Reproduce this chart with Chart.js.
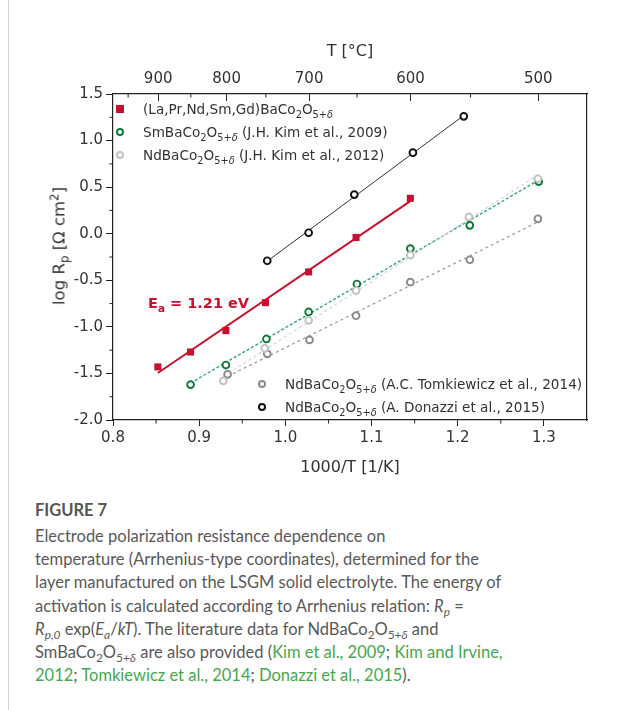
<!DOCTYPE html>
<html>
<head>
<meta charset="utf-8">
<script src="https://cdn.jsdelivr.net/npm/chart.js@4.4.1/dist/chart.umd.min.js"></script>
<style>
  body { margin: 0; background: #fff; width: 617px; height: 710px; position: relative; overflow: hidden; font-family: 'DejaVu Sans', sans-serif; }
  #rule { position: absolute; left: 8px; top: 0; bottom: 0; border-left: 1px solid #d6d6d6; }
  #chart { position: absolute; left: 0; top: 0; }
  .legend { position: absolute; font-size: 13.6px; color: #333; }
  .legend .row { display: flex; align-items: center; height: 23px; white-space: nowrap; }
  .legend .mk { width: 14px; display: flex; justify-content: center; margin-right: 16px; }
  .legend .mk span { display: block; box-sizing: border-box; }
  sub, sup { font-size: 72%; line-height: 0; }
  #ea { position: absolute; left: 148px; top: 296px; font-size: 14.5px; font-weight: bold; color: #c8102e; white-space: nowrap; line-height: 1; }
  #ytitle { position: absolute; left: 59px; top: 246px; transform: translate(-50%, -50%) rotate(-90deg); font-size: 16.5px; color: #333; white-space: nowrap; }
  #fig { position: absolute; left: 35px; top: 500px; font-family: Lato, sans-serif; font-weight: bold; font-size: 16.5px; color: #555; }
  #cap { position: absolute; left: 35px; top: 525px; font-family: Lato, sans-serif; font-size: 16.5px; line-height: 23.2px; color: #595959; white-space: nowrap; }
  #cap a { color: #45a84d; text-decoration: none; }
</style>
</head>
<body>
<div id="rule"></div>
<canvas id="chart" width="617" height="480"></canvas>
<div class="legend" id="legTop" style="left:113px; top:97px;"></div>
<div class="legend" id="legBottom" style="left:255px; top:372px;"></div>
<div id="ea">E<sub>a</sub> = 1.21 eV</div>
<div id="ytitle">log R<sub>p</sub> [Ω cm<sup>2</sup>]</div>
<div id="fig">FIGURE 7</div>
<div id="cap">
Electrode polarization resistance dependence on<br>
temperature (Arrhenius-type coordinates), determined for the<br>
layer manufactured on the LSGM solid electrolyte. The energy of<br>
activation is calculated according to Arrhenius relation: <i>R<sub>p</sub></i> =<br>
<i>R<sub>p,0</sub></i> exp(<i>E<sub>a</sub></i>/<i>kT</i>). The literature data for NdBaCo<sub>2</sub>O<sub>5+<i>δ</i></sub> and<br>
SmBaCo<sub>2</sub>O<sub>5+<i>δ</i></sub> are also provided (<a>Kim et al., 2009</a>; <a>Kim and Irvine,</a><br>
<a>2012</a>; <a>Tomkiewicz et al., 2014</a>; <a>Donazzi et al., 2015</a>).
</div>
<script>
// 1000/T [1/K] and log Rp
const xLa = [0.852, 0.890, 0.931, 0.977, 1.027, 1.082, 1.145];
const yLa = [-1.43, -1.27, -1.04, -0.74, -0.41, -0.04, 0.38];

const xSm = [0.890, 0.931, 0.978, 1.027, 1.083, 1.145, 1.214, 1.294];
const ySm = [-1.62, -1.41, -1.13, -0.84, -0.54, -0.16, 0.09, 0.56];

const xKim = [0.928, 0.976, 1.027, 1.082, 1.145, 1.213, 1.293];
const yKim = [-1.58, -1.23, -0.93, -0.61, -0.23, 0.18, 0.59];

const xTom = [0.933, 0.979, 1.028, 1.082, 1.145, 1.214, 1.293];
const yTom = [-1.51, -1.29, -1.14, -0.88, -0.52, -0.28, 0.16];

const xDon = [0.979, 1.027, 1.080, 1.148, 1.207];
const yDon = [-0.29, 0.01, 0.42, 0.87, 1.26];

const xMajor = [0.8, 0.9, 1.0, 1.1, 1.2, 1.3];
const xMinor = [0.85, 0.95, 1.05, 1.15, 1.25];
const yMajor = [-2.0, -1.5, -1.0, -0.5, 0.0, 0.5, 1.0, 1.5];
const yMinor = [-1.75, -1.25, -0.75, -0.25, 0.25, 0.75, 1.25];
const tempMajor = [900, 800, 700, 600, 500];
const tempMinor = [950, 850, 750, 650, 550];

const formula = 'Co<sub>2</sub>O<sub>5+<i>δ</i></sub>';
const nameLa = '(La,Pr,Nd,Sm,Gd)Ba' + formula;
const nameSm = 'SmBa' + formula + ' (J.H. Kim et al., 2009)';
const nameKim = 'NdBa' + formula + ' (J.H. Kim et al., 2012)';
const nameTom = 'NdBa' + formula + ' (A.C. Tomkiewicz et al., 2014)';
const nameDon = 'NdBa' + formula + ' (A. Donazzi et al., 2015)';

const axisColor = '#222';
const red = '#c8102e';
const green = '#0b7a3a';
const greenLine = '#2fa57a';
const lightGray = '#c2c2c2';
const midGray = '#8a8a8a';
const black = '#111';

const toK = t => 1000 / (t + 273.15);
const pts = (xs, ys) => xs.map((x, i) => ({ x, y: ys[i] }));

const fit = (xs, ys) => {
  const n = xs.length;
  const mx = xs.reduce((a, b) => a + b) / n;
  const my = ys.reduce((a, b) => a + b) / n;
  let sxy = 0, sxx = 0;
  xs.forEach((x, i) => { sxy += (x - mx) * (ys[i] - my); sxx += (x - mx) * (x - mx); });
  const k = sxy / sxx, b = my - k * mx;
  const x0 = Math.min(...xs), x1 = Math.max(...xs);
  return [{ x: x0, y: k * x0 + b }, { x: x1, y: k * x1 + b }];
};

const fitLine = (xs, ys, color, width, dash) => ({
  data: fit(xs, ys), showLine: true, pointRadius: 0, borderColor: color,
  borderWidth: width, borderDash: dash, order: 2
});

const marks = (xs, ys, color, style) => ({
  data: pts(xs, ys), showLine: false, pointStyle: style,
  pointRadius: style === 'rect' ? 5 : 3.4,
  pointBorderWidth: style === 'rect' ? 0 : 1.9,
  pointBackgroundColor: style === 'rect' ? color : '#fff',
  pointBorderColor: color, order: 1
});

const minorTicks = {
  id: 'minorTicks',
  afterDraw(chart) {
    const { ctx, chartArea, scales } = chart;
    ctx.save();
    ctx.strokeStyle = axisColor;
    ctx.lineWidth = 1;
    ctx.beginPath();
    xMinor.forEach(v => {
      const p = scales.x.getPixelForValue(v);
      ctx.moveTo(p, chartArea.bottom); ctx.lineTo(p, chartArea.bottom + 3.5);
    });
    yMinor.forEach(v => {
      const p = scales.y.getPixelForValue(v);
      ctx.moveTo(chartArea.left, p); ctx.lineTo(chartArea.left - 3.5, p);
    });
    tempMinor.forEach(t => {
      const p = scales.xTop.getPixelForValue(toK(t));
      ctx.moveTo(p, chartArea.top); ctx.lineTo(p, chartArea.top + 3.5);
    });
    ctx.stroke();
    ctx.restore();
  }
};

const tickFont = { family: 'DejaVu Sans', size: 15 };
const titleFont = { family: 'DejaVu Sans', size: 16 };

new Chart(document.getElementById('chart'), {
  type: 'scatter',
  data: {
    datasets: [
      fitLine(xDon, yDon, '#333', 1, []),
      fitLine(xKim, yKim, '#d2d2d2', 1.2, [3, 3]),
      fitLine(xTom, yTom, '#9a9a9a', 1.2, [3, 3]),
      fitLine(xSm, ySm, greenLine, 1.4, [3, 2]),
      fitLine(xLa, yLa, red, 2, []),
      marks(xKim, yKim, lightGray, 'circle'),
      marks(xTom, yTom, midGray, 'circle'),
      marks(xSm, ySm, green, 'circle'),
      marks(xDon, yDon, black, 'circle'),
      marks(xLa, yLa, red, 'rect')
    ]
  },
  options: {
    responsive: false,
    animation: false,
    layout: { padding: 0 },
    plugins: { legend: { display: false }, tooltip: { enabled: false } },
    scales: {
      x: {
        type: 'linear', position: 'bottom', min: 0.8, max: 1.35,
        afterBuildTicks: s => { s.ticks = xMajor.map(value => ({ value })); },
        afterFit: s => { s.height = 60; },
        ticks: { font: tickFont, color: '#333', padding: 3, callback: v => v.toFixed(1) },
        grid: { drawOnChartArea: false, tickLength: 6, color: axisColor },
        border: { color: axisColor, width: 1.2 },
        title: { display: true, text: '1000/T [1/K]', font: titleFont, color: '#333', padding: { top: 0, bottom: 3 } }
      },
      xTop: {
        type: 'linear', position: 'top', min: 0.8, max: 1.35,
        afterBuildTicks: s => { s.ticks = tempMajor.map(t => ({ value: toK(t) })); },
        afterFit: s => { s.height = 94; },
        ticks: { font: tickFont, color: '#333', padding: 13, callback: (v, i) => String(tempMajor[i]) },
        grid: { drawOnChartArea: false, tickLength: -7, color: axisColor },
        border: { color: axisColor, width: 1.2 },
        title: { display: true, text: 'T [°C]', font: titleFont, color: '#333', padding: { top: 42, bottom: 0 } }
      },
      y: {
        type: 'linear', position: 'left', min: -2, max: 1.5,
        afterBuildTicks: s => { s.ticks = yMajor.map(value => ({ value })); },
        afterFit: s => { s.width = 113; },
        ticks: { font: tickFont, color: '#333', padding: 3, callback: v => v.toFixed(1) },
        grid: { drawOnChartArea: false, tickLength: 7, color: axisColor },
        border: { color: axisColor, width: 1.2 }
      },
      yR: {
        type: 'linear', position: 'right', min: -2, max: 1.5,
        afterFit: s => { s.width = 30; },
        ticks: { display: false },
        grid: { drawOnChartArea: false, drawTicks: false },
        border: { color: axisColor, width: 1.2 }
      }
    }
  },
  plugins: [minorTicks]
});

// legends built from the series names and styles
const marker = (color, style) => style === 'rect'
  ? `<span style="width:8px;height:8px;background:${color}"></span>`
  : `<span style="width:8px;height:8px;border:2px solid ${color};border-radius:50%"></span>`;
const legendRows = rows => rows.map(([name, color, style]) =>
  `<div class="row"><div class="mk">${marker(color, style)}</div><div>${name}</div></div>`).join('');

document.getElementById('legTop').innerHTML = legendRows([
  [nameLa, red, 'rect'], [nameSm, green, 'circle'], [nameKim, lightGray, 'circle']
]);
document.getElementById('legBottom').innerHTML = legendRows([
  [nameTom, midGray, 'circle'], [nameDon, black, 'circle']
]);
</script>
</body>
</html>
